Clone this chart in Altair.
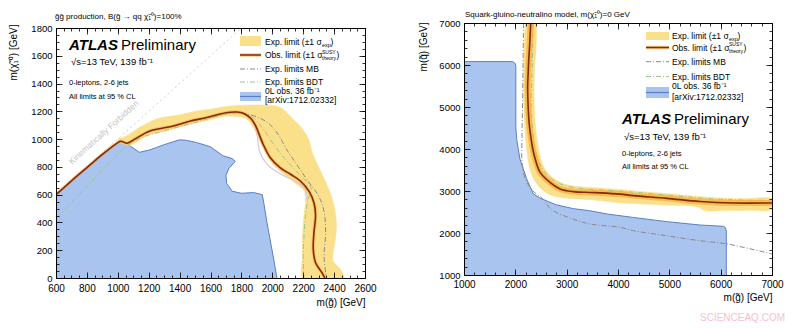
import altair as alt
import pandas as pd

FONT = "Liberation Sans"
YELLOW = "#fbe08c"
ORANGE = "#f0a23a"
OBS_COL = "#862a06"
BLUE = "#a9c4ee"
BLUE_EDGE = "#5a7fc0"
MB_COL = "#8a8a8a"
BDT_COL = "#9cc48f"
LAV_COL = "#d6c6de"
DIAG_COL = "#cfcfcf"

# ---------------- left panel: gluino pair production ----------------
L_X_MAJ = [600, 800, 1000, 1200, 1400, 1600, 1800, 2000, 2200, 2400, 2600]
L_X_MIN = list(range(600, 2601, 50))
L_Y_MAJ = [0, 200, 400, 600, 800, 1000, 1200, 1400, 1600, 1800]
L_Y_MIN = list(range(0, 1801, 50))

L_BLUE_X = [600, 600, 700, 800, 900, 1000, 1030, 1080, 1140, 1200, 1250, 1300, 1400, 1450, 1510, 1600,
            1680, 1740, 1760, 1720, 1700, 1705, 1740, 1800, 1880, 1935, 1945, 1965, 1990, 2010, 2030]
L_BLUE_Y = [0, 600, 695, 790, 885, 975, 985, 950, 905, 920, 940, 960, 995, 990, 975, 945,
            880, 860, 840, 790, 740, 680, 625, 610, 615, 600, 540, 400, 250, 130, 0]

L_OBS_X = [600, 700, 800, 900, 1000, 1020, 1060, 1110, 1200, 1270, 1360, 1470, 1575, 1700, 1770, 1815,
           1860, 1890, 1940, 1985, 2050, 2120, 2180, 2240, 2270, 2280, 2270, 2265, 2280, 2320, 2340]
L_OBS_Y = [600, 700, 795, 890, 975, 985, 970, 1000, 1055, 1075, 1095, 1130, 1155, 1190, 1195, 1185,
           1150, 1100, 965, 870, 795, 745, 700, 620, 540, 450, 330, 210, 110, 40, 0]

L_BAND_OUT_X = [1000, 1050, 1100, 1150, 1250, 1400, 1500, 1600, 1700, 1850, 1950, 2050, 2120, 2190,
                2235, 2260, 2300, 2350, 2395, 2415, 2410, 2395, 2395, 2440, 2460]
L_BAND_OUT_Y = [1000, 1020, 1055, 1090, 1145, 1175, 1200, 1215, 1235, 1245, 1245, 1230, 1160, 1080,
                1000, 900, 800, 680, 545, 400, 290, 190, 120, 65, 0]
L_BAND_IN_X = [2200, 2195, 2195, 2205, 2215, 2205, 2150, 2050, 1985, 1935, 1880, 1830, 1780, 1700,
               1600, 1500, 1400, 1300, 1200, 1130, 1080, 1040, 1000]
L_BAND_IN_Y = [0, 150, 300, 450, 560, 630, 680, 770, 845, 950, 1080, 1150, 1160, 1165,
               1140, 1115, 1085, 1055, 1030, 985, 955, 965, 980]

L_MB_X = [1800, 1900, 1980, 2040, 2090, 2150, 2230, 2300, 2335, 2345, 2335, 2350]
L_MB_Y = [1190, 1160, 1110, 1030, 930, 830, 700, 590, 480, 320, 160, 0]

L_BDT_X = [610, 700, 800, 900, 1000, 1060, 1150, 1300, 1500, 1700, 1800, 1880, 1950, 2010, 2080,
           2180, 2250, 2230, 2215, 2205, 2200, 2205]
L_BDT_Y = [440, 540, 660, 775, 890, 950, 1010, 1060, 1120, 1180, 1185, 1150, 1060, 960, 860,
           740, 650, 560, 450, 300, 150, 0]

L_LAV_X = [1880, 1900, 1920, 1965, 2050, 2160, 2212, 2225]
L_LAV_Y = [1120, 1040, 905, 820, 750, 690, 640, 560]

L_DIAG_X = [600, 1800]
L_DIAG_Y = [600, 1800]

# ---------------- right panel: squark-gluino-neutralino ----------------
R_X_MAJ = [1000, 2000, 3000, 4000, 5000, 6000, 7000]
R_X_MIN = list(range(1000, 7001, 200))
R_Y_MAJ = [1000, 2000, 3000, 4000, 5000, 6000, 7000]
R_Y_MIN = list(range(1000, 7001, 200))

R_BLUE_X = [1000, 1000, 1950, 1995, 2010, 2010, 2030, 2090, 2220, 2350, 2480, 2800, 3130, 3450, 3800,
            4300, 4950, 5600, 6050, 6090, 6110, 6110]
R_BLUE_Y = [1000, 6080, 6080, 6040, 5980, 4500, 4200, 3760, 3290, 2930, 2830, 2670, 2580, 2530, 2450,
            2370, 2270, 2190, 2160, 2130, 2050, 1000]

R_OBS_X = [2300, 2280, 2260, 2250, 2240, 2250, 2270, 2300, 2340, 2390, 2480, 2670, 2870, 3130, 3450,
           3650, 4040, 4300, 4950, 5600, 6250, 7000]
R_OBS_Y = [7000, 6500, 6100, 5800, 5500, 5000, 4600, 4300, 4000, 3750, 3450, 3210, 3050, 2985, 2965,
           2955, 2925, 2890, 2825, 2750, 2715, 2715]

R_BAND_OUT_X = [2420, 2405, 2380, 2365, 2370, 2395, 2440, 2500, 2600, 2750, 2950, 3200, 3600, 4000,
                4500, 5000, 5500, 6000, 6500, 7000]
R_BAND_OUT_Y = [7000, 6400, 6000, 5500, 5000, 4500, 4100, 3750, 3480, 3300, 3170, 3110, 3080, 3040,
                2980, 2935, 2875, 2835, 2820, 2810]
R_BAND_IN_X = [7000, 6500, 6000, 5700, 5550, 5000, 4500, 4000, 3500, 3000, 2750, 2550, 2400, 2290,
               2230, 2190, 2165, 2160, 2170, 2190]
R_BAND_IN_Y = [2570, 2540, 2530, 2530, 2620, 2660, 2690, 2720, 2790, 2830, 2880, 3000, 3200, 3500,
               3900, 4400, 5000, 6000, 6400, 7000]

R_MB_X = [2160, 2150, 2140, 2130, 2130, 2190, 2330, 2545, 2700, 3130, 3450, 4040, 4300, 4950, 5600, 6120, 7000]
R_MB_Y = [7000, 6000, 5000, 4300, 3700, 3300, 3020, 2800, 2560, 2330, 2215, 2135, 2055, 1935, 1815, 1740, 1500]

R_BDT_X = [2350, 2330, 2310, 2340, 2400, 2520, 2700, 2950, 3300, 4000, 5000, 6000, 7000]
R_BDT_Y = [7000, 6000, 5000, 4400, 3900, 3550, 3300, 3130, 3060, 3000, 2900, 2800, 2780]

ONE = pd.DataFrame({"a": [0]})


def path_df(xs, ys):
    return pd.DataFrame({"x": xs, "y": ys, "i": list(range(len(xs)))})


def ax(orient, offset, values, kind, **kw):
    base = dict(orient=orient, offset=offset, values=values, grid=False, zindex=1,
                domainColor="black", tickColor="black", labelColor="black", titleColor="black",
                labelFont=FONT, titleFont=FONT)
    if kind == "ticks":
        base.update(labels=False, domain=False, ticks=True, tickWidth=0.8, title=None)
    elif kind == "frame":
        base.update(labels=False, domain=True, ticks=False, tickSize=0, domainWidth=1, title=None)
    else:  # labels
        base.update(labels=True, domain=True, ticks=False, tickSize=0, domainWidth=1, format="d",
                    labelFontSize=10, labelFlush=False, labelOverlap=False)
    base.update(kw)
    return alt.Axis(**base)


MAJ, MIN = 6, 3


def axis_pairs(W, b_off, t_off, xmaj, xmin, ymaj, ymin, xtitle, ytitle, xt_y, yt_x, yt_y, xpad):
    return [
        (ax("bottom", b_off, xmaj, "labels", labelPadding=xpad, title=xtitle, titleX=W, titleY=xt_y,
            titleAlign="right", titleBaseline="alphabetic", titleFontSize=10, titleFontWeight="normal"),
         ax("left", 0, ymaj, "labels", labelPadding=4, labelFontSize=9.5, title=ytitle, titleAngle=270,
            titleX=yt_x, titleY=yt_y, titleAlign="right", titleBaseline="alphabetic", titleFontSize=10,
            titleFontWeight="normal")),
        (ax("bottom", b_off - MAJ, xmaj, "ticks", tickSize=MAJ), ax("left", -MAJ, ymaj, "ticks", tickSize=MAJ)),
        (ax("bottom", b_off - MIN, xmin, "ticks", tickSize=MIN), ax("left", -MIN, ymin, "ticks", tickSize=MIN)),
        (ax("top", t_off - MAJ, xmaj, "ticks", tickSize=MAJ), ax("right", -MAJ, ymaj, "ticks", tickSize=MAJ)),
        (ax("top", t_off - MIN, xmin, "ticks", tickSize=MIN), ax("right", -MIN, ymin, "ticks", tickSize=MIN)),
        (ax("top", t_off, xmaj, "frame"), ax("right", 0, ymaj, "frame")),
    ]


def path_layer(df, xs, ys, axes, interp="linear", **mk):
    xa, ya = axes if axes is not None else (None, None)
    return alt.Chart(df).mark_line(clip=True, interpolate=interp, **mk).encode(
        x=alt.X("x:Q", scale=xs, axis=xa),
        y=alt.Y("y:Q", scale=ys, axis=ya),
        order=alt.Order("i:Q"),
    )


def tx(text, x, y, size=8.5, align="left", baseline="alphabetic", color="black", **kw):
    return alt.Chart(ONE).mark_text(text=text, align=align, baseline=baseline, font=FONT,
                                    fontSize=size, color=color, **kw).encode(
        x=alt.value(x), y=alt.value(y))


def rect(x1, x2, y1, y2, color):
    return alt.Chart(ONE).mark_rect(color=color).encode(
        x=alt.value(x1), x2=alt.value(x2), y=alt.value(y1), y2=alt.value(y2))


def rule(x1, x2, y, color, width=1.2, dash=None, opacity=1.0):
    kw = {}
    if dash:
        kw["strokeDash"] = dash
    return alt.Chart(ONE).mark_rule(color=color, strokeWidth=width, opacity=opacity, **kw).encode(
        x=alt.value(x1), x2=alt.value(x2), y=alt.value(y))


def legend(sx1, sx2, tx0, ys):
    y_exp, y_obs, y_mb, y_bdt, y_0l, y_arx, r_exp, r_blue = ys
    fs = 8.5
    return [
        rect(sx1, sx2, r_exp[0], r_exp[1], YELLOW),
        tx("Exp. limit (±1 σ", tx0, y_exp, fs, baseline="middle"),
        tx("exp", tx0 + 57, y_exp + 2.5, 5.5, baseline="middle"),
        tx(")", tx0 + 65.5, y_exp, fs, baseline="middle"),
        rule(sx1, sx2, y_obs, ORANGE, 3.5, opacity=0.6),
        rule(sx1, sx2, y_obs, OBS_COL, 1.5),
        tx("Obs. limit (±1 σ", tx0, y_obs, fs, baseline="middle"),
        tx("SUSY", tx0 + 57, y_obs - 3.5, 5, baseline="middle"),
        tx("theory", tx0 + 57, y_obs + 3, 5, baseline="middle"),
        tx(")", tx0 + 71.5, y_obs, fs, baseline="middle"),
        rule(sx1, sx2, y_mb, MB_COL, 1, [5, 2, 1, 2]),
        tx("Exp. limits MB", tx0, y_mb, fs, baseline="middle"),
        rule(sx1, sx2, y_bdt, BDT_COL, 1, [5, 2, 1, 2]),
        tx("Exp. limits BDT", tx0, y_bdt, fs, baseline="middle"),
        rect(sx1, sx2, r_blue[0], r_blue[1], BLUE),
        rule(sx1, sx2, (r_blue[0] + r_blue[1]) / 2, BLUE_EDGE, 1.2),
        tx("0L obs. 36 fb⁻¹", tx0, y_0l, fs, baseline="middle"),
        tx("[arXiv:1712.02332]", tx0, y_arx, fs, baseline="middle"),
    ]


def atlas_block(x, y0, y1, y2, y3, dx_prelim):
    return [
        tx("ATLAS", x, y0, 15, fontStyle="italic", fontWeight="bold"),
        tx("Preliminary", x + dx_prelim, y0, 15),
        tx("√s=13 TeV, 139 fb⁻¹", x + 2, y1, 9.5),
        tx("0-leptons, 2-6 jets", x, y2, 7.5),
        tx("All limits at 95 % CL", x, y3, 7.5),
    ]


# ---------------- build left panel ----------------
LW, LH = 309, 255
L_XS = alt.Scale(domain=[600, 2600], nice=False, zero=False)
L_YS = alt.Scale(domain=[0, 1800], range=[255, 5], nice=False, zero=False)
l_axes = axis_pairs(LW, 0, -5, L_X_MAJ, L_X_MIN, L_Y_MAJ, L_Y_MIN,
                    "m(g̃) [GeV]", "m(χ̃₁⁰) [GeV]", 27.7, -40, 1, 5)

l_band = path_df(L_BAND_OUT_X + L_BAND_IN_X, L_BAND_OUT_Y + L_BAND_IN_Y)
left_layers = [
    path_layer(path_df(L_BLUE_X, L_BLUE_Y), L_XS, L_YS, l_axes[0], fill=BLUE, stroke=BLUE_EDGE, strokeWidth=1),
    path_layer(l_band, L_XS, L_YS, l_axes[1], interp="catmull-rom", fill=YELLOW, stroke=YELLOW, strokeWidth=0.5),
    path_layer(path_df(L_DIAG_X, L_DIAG_Y), L_XS, L_YS, l_axes[2], stroke=DIAG_COL, strokeWidth=1, strokeDash=[2, 3]),
    path_layer(path_df(L_LAV_X, L_LAV_Y), L_XS, L_YS, l_axes[3], interp="catmull-rom", stroke=LAV_COL, strokeWidth=1.2),
    path_layer(path_df(L_BDT_X, L_BDT_Y), L_XS, L_YS, l_axes[4], interp="catmull-rom", stroke=BDT_COL,
               strokeWidth=1, strokeDash=[5, 2, 1, 2]),
    path_layer(path_df(L_MB_X, L_MB_Y), L_XS, L_YS, l_axes[5], interp="catmull-rom", stroke=MB_COL,
               strokeWidth=1, strokeDash=[5, 2, 1, 2]),
    path_layer(path_df(L_OBS_X, L_OBS_Y), L_XS, L_YS, None, interp="catmull-rom", stroke=ORANGE,
               strokeWidth=3.5, opacity=0.45),
    path_layer(path_df(L_OBS_X, L_OBS_Y), L_XS, L_YS, None, interp="catmull-rom", stroke=OBS_COL, strokeWidth=1.6),
    tx("g̃g̃ production, B(g̃ → qq χ̃₁⁰)=100%", -1, -4, 8),
    tx("Kinematically Forbidden", 51, 113, 8.5, align="center", baseline="bottom", color="#c4c4c4", angle=318),
]
left_layers += atlas_block(13, 27, 42, 62, 76, 52)
left_layers += legend(184, 205, 209, (19, 32, 46, 59, 68, 77, (13, 23), (69, 78)))

left = alt.layer(*left_layers).properties(width=LW, height=LH).resolve_axis(x="independent", y="independent")

# ---------------- build right panel ----------------
RW, RH = 308, 255
R_XS = alt.Scale(domain=[1000, 7000], nice=False, zero=False)
R_YS = alt.Scale(domain=[1000, 7000], range=[252, 0], nice=False, zero=False)
r_axes = axis_pairs(RW, -3, 0, R_X_MAJ, R_X_MIN, R_Y_MAJ, R_Y_MIN,
                    "m(g̃) [GeV]", "m(q̃) [GeV]", 25.7, -38, -1, 4)

r_band = path_df(R_BAND_OUT_X + R_BAND_IN_X, R_BAND_OUT_Y + R_BAND_IN_Y)
right_layers = [
    path_layer(path_df(R_BLUE_X, R_BLUE_Y), R_XS, R_YS, r_axes[0], fill=BLUE, stroke=BLUE_EDGE, strokeWidth=1),
    path_layer(r_band, R_XS, R_YS, r_axes[1], interp="catmull-rom", fill=YELLOW, stroke=YELLOW, strokeWidth=0.5),
    path_layer(path_df(R_MB_X, R_MB_Y), R_XS, R_YS, r_axes[2], interp="catmull-rom", stroke=MB_COL,
               strokeWidth=1, strokeDash=[5, 2, 1, 2]),
    path_layer(path_df(R_BDT_X, R_BDT_Y), R_XS, R_YS, r_axes[3], interp="catmull-rom", stroke=BDT_COL,
               strokeWidth=1, strokeDash=[5, 2, 1, 2]),
    path_layer(path_df(R_OBS_X, R_OBS_Y), R_XS, R_YS, r_axes[4], interp="catmull-rom", stroke="#f3ad3c",
               strokeWidth=6, opacity=0.75),
    path_layer(path_df(R_OBS_X, R_OBS_Y), R_XS, R_YS, r_axes[5], interp="catmull-rom", stroke=OBS_COL, strokeWidth=1.6),
    tx("Squark-gluino-neutralino model, m(χ̃₁⁰)=0 GeV", 1, -6, 8),
    tx("SCIENCEAQ.COM", 321, 298, 10, align="right", color="#f4c2cc"),
]
right_layers += atlas_block(158, 101, 117, 133, 146, 52)
right_layers += legend(182, 205, 208, (13, 24.5, 38.7, 53.5, 63, 73.5, (9, 17), (64, 75)))

right = alt.layer(*right_layers).properties(width=RW, height=RH).resolve_axis(x="independent", y="independent")

chart = alt.hconcat(left, right, spacing=99, bounds="flush").properties(
    padding={"left": 8, "top": 11, "right": 5, "bottom": 2}
).configure(font=FONT).configure_view(stroke=None)

chart.save("out.html", embed_options={"renderer": "svg", "actions": False})
